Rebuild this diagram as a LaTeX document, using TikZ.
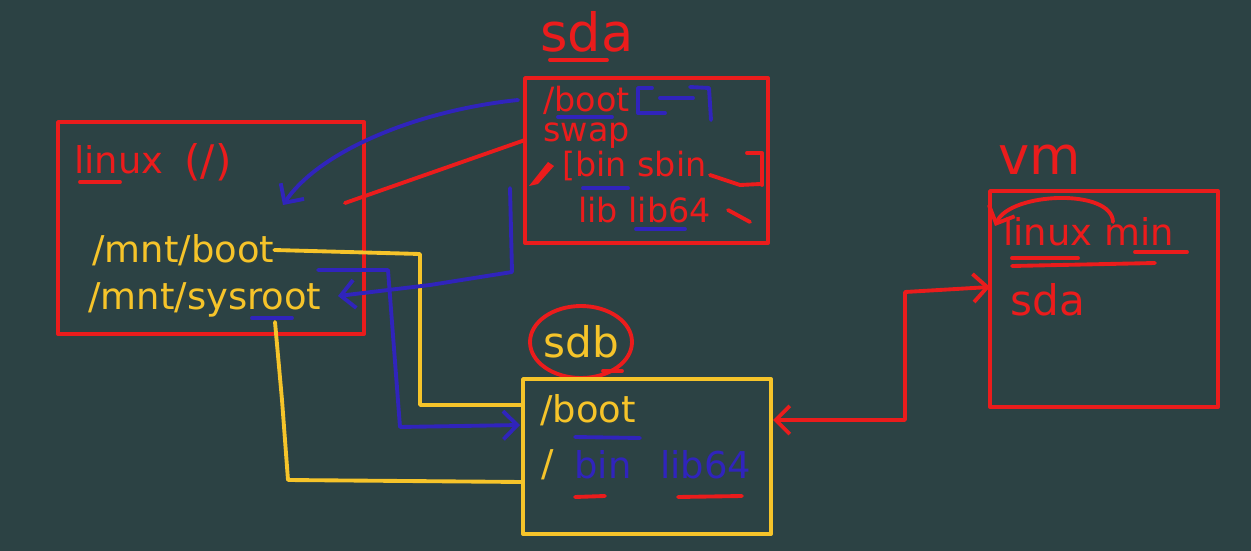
\documentclass[tikz,border=0pt]{standalone}
\usepackage{fontspec}
\setmainfont{DejaVu Sans}
\usetikzlibrary{arrows.meta, fit}
\definecolor{board}{RGB}{44,66,68}
\definecolor{chalkred}{RGB}{235,28,28}
\definecolor{chalkyellow}{RGB}{246,196,42}
\definecolor{chalkblue}{RGB}{48,36,188}

\begin{document}
\begin{tikzpicture}[x=0.02cm, y=-0.02cm, line cap=round, line join=round,
  redbox/.style={draw=chalkred, line width=2.2pt, inner sep=0pt},
  ylwbox/.style={draw=chalkyellow, line width=2.2pt, inner sep=0pt},
  redtxt/.style={text=chalkred, inner sep=0pt, anchor=west},
  ylwtxt/.style={text=chalkyellow, inner sep=0pt, anchor=west},
  blutxt/.style={text=chalkblue, inner sep=0pt, anchor=west},
  redline/.style={draw=chalkred, line width=2.2pt},
  ylwline/.style={draw=chalkyellow, line width=2.2pt},
  bluline/.style={draw=chalkblue, line width=2.2pt},
  hand/.style={-{Straight Barb[length=8pt, width=16pt]}},
  f19/.style={font=\fontsize{19}{23}\selectfont},
  f21/.style={font=\fontsize{21}{25}\selectfont},
  f24/.style={font=\fontsize{24}{28}\selectfont},
  f30/.style={font=\fontsize{30}{34}\selectfont}]
\fill[board] (0,0) rectangle (1251,551);

% linux (/)
\node[redbox, fit={(58,122) (364,334)}] (linux) {};
\node[redtxt, f21] (linuxlbl) at (74,160) {linux};
\node[redtxt, f24] (rootlbl) at (184,162) {(/)};
\draw[redline] (80,182) -- (120,182);
\node[ylwtxt, f21] (mntboot) at (92,250) {/mnt/boot};
\node[ylwtxt, f21] (mntsys) at (88,300) {/mnt/sysroot};
\draw[bluline] (252,318) -- (292,318);

% sda
\node[redtxt, f30] (sdalbl) at (540,32) {sda};
\draw[redline] (550,60) -- (607,60);
\node[redbox, fit={(525,78) (768,243)}] (sda) {};
\node[redtxt, f19] (sdaboot) at (543,100) {/boot};
\node[redtxt, f19] (swap) at (543,136) {swap};
\node[redtxt, f19] (binsbin) at (562,166) {[bin sbin};
\node[redtxt, f19] (libs) at (578,210) {lib lib64};
\draw[bluline] (558,117) -- (612,117);
\draw[bluline] (583,188) -- (628,188);
\draw[bluline] (636,229) -- (685,229);
\draw[bluline] (652,88) -- (638,88) -- (638,113) -- (665,113);
\draw[bluline] (660,98) -- (693,98);
\draw[bluline] (690,87) -- (709,88) -- (711,120);
\draw[redline] (710,175) -- (740,185) -- (760,184);
\draw[redline] (747,153) -- (762,153) -- (762,185);
\draw[redline] (728,210) -- (750,222);
\fill[chalkred] (529,186) -- (548,162) -- (554,166) -- (538,184) -- cycle;

% sdb
\node[ylwtxt, f24, anchor=center] (sdblbl) at (581,342) {sdb};
\draw[redline] (sdblbl.center) ellipse [x radius=1.02cm, y radius=0.72cm];
\draw[redline] (603,371) -- (622,371);
\node[ylwbox, fit={(523,379) (771,534)}] (sdb) {};
\node[ylwtxt, f21] (sdbboot) at (540,410) {/boot};
\draw[bluline] (575,437) -- (640,438);
\node[ylwtxt, f21] (sdbroot) at (541,465) {/};
\node[blutxt, f21] (sdbbin) at (574,465) {bin};
\node[blutxt, f21] (sdblib) at (660,465) {lib64};
\draw[redline] (575,497) -- (605,496);
\draw[redline] (678,497) -- (742,496);

% vm
\node[redtxt, f30] (vmlbl) at (998,160) {vm};
\node[redbox, fit={(990,191) (1218,407)}] (vm) {};
\node[redtxt, f21] (vmlinux) at (1003,232) {linux min};
\draw[redline] (1012,258) -- (1078,258);
\draw[redline] (1012,266) -- (1155,263);
\draw[redline] (1135,252) -- (1187,252);
\node[redtxt, f24] (vmsda) at (1010,300) {sda};
\draw[redline, hand] (1113,222) .. controls (1112,188) and (1010,192) .. (995,226);

% connectors
\coordinate (bootin) at (523,405);
\coordinate (binin) at (523,482);
\coordinate (sysout) at (275,322);
\draw[ylwline] (mntboot.east) -- (420,254) -- (420,405) -- (bootin);
\draw[ylwline] (sysout) -- (282,400) -- (288,480) -- (binin);

\coordinate (bluebend) at (318,270);
\coordinate (bootarr) at (520,425);
\draw[bluline, hand] (bluebend) -- (388,270) -- (400,427) -- (bootarr);
\coordinate (sdafoot) at (510,188);
\coordinate (sysarr) at (338,296);
\draw[bluline, hand] (sdafoot) -- (512,272) -- (430,285) -- (sysarr);
\coordinate (bootsrc) at (518,100);
\coordinate (rootarr) at (283,205);
\draw[bluline, hand] (bootsrc) .. controls (420,110) and (320,150) .. (rootarr);

\coordinate (swapsrc) at (525,140);
\coordinate (rootin) at (345,203);
\draw[redline] (swapsrc) -- (rootin);

\coordinate (sdbport) at (773,420);
\coordinate (vmport) at (990,287);
\draw[redline, {Straight Barb[length=8pt, width=16pt]}-{Straight Barb[length=8pt, width=16pt]}]
  (sdbport) -- (905,420) -- (905,292) -- (vmport);
\end{tikzpicture}
\end{document}
